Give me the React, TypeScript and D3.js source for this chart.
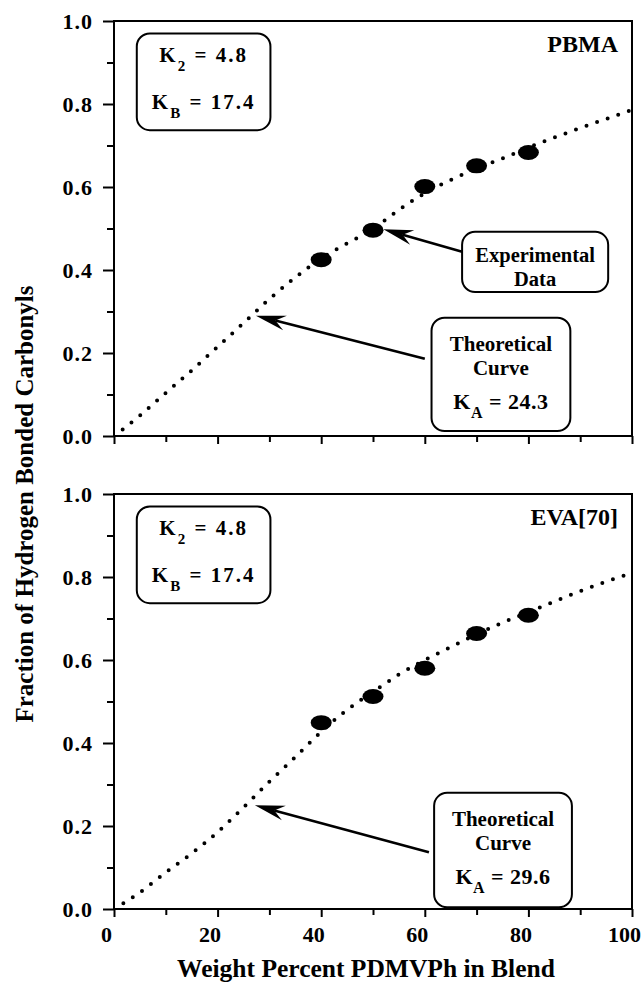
import React, { useEffect, useRef } from "react";
import * as d3 from "d3";

// measured points (weight % PDMVPh vs fraction of H-bonded carbonyls)
const weightPct = [40, 50, 60, 70, 80];
const pbmaFraction = [0.425, 0.496, 0.601, 0.651, 0.683];
const evaFraction = [0.449, 0.512, 0.58, 0.664, 0.708];

// theoretical curves
const curveX = [0, 5, 10, 15, 20, 25, 30, 35, 40, 45, 50, 55, 60, 65, 70, 75, 80, 85, 90, 95, 100];
const pbmaCurve = [0.0, 0.049, 0.104, 0.158, 0.215, 0.272, 0.33, 0.382, 0.428, 0.464, 0.499, 0.545, 0.585, 0.617, 0.645, 0.669, 0.695, 0.719, 0.742, 0.764, 0.786];
const evaCurve = [0.0, 0.04, 0.088, 0.134, 0.185, 0.245, 0.307, 0.366, 0.427, 0.48, 0.523, 0.565, 0.6, 0.631, 0.662, 0.69, 0.715, 0.741, 0.766, 0.789, 0.81];

const xMajor = [0, 20, 40, 60, 80, 100];
const xMinor = [10, 30, 50, 70, 90];
const yMajor = [0, 0.2, 0.4, 0.6, 0.8, 1.0];
const yMinor = [0.1, 0.3, 0.5, 0.7, 0.9];

const FONT = "'Liberation Serif', 'Times New Roman', Times, serif";

const App = () => {
    const svgRef = useRef();

    useEffect(() => {
        const width = 641;
        const height = 982;
        const left = 114;
        const right = 632;

        const svg = d3.select(svgRef.current)
            .attr("width", width)
            .attr("height", height)
            .style("font-family", FONT)
            .style("font-weight", "bold");
        svg.selectAll("*").remove();

        const x = d3.scaleLinear().domain([0, 100]).range([left, right]);

        const panels = [
            {
                name: "PBMA", top: 21, bottom: 436, pts: pbmaFraction, curve: pbmaCurve,
                k2: "4.8", kb: "17.4", ka: "24.3", labels: false,
                theo: { x0: 61.3, x1: 88.1, y0: 0.285, y1: 0.012, from: [60, 0.186], to: [27.4, 0.29] },
                expt: { x0: 67.2, x1: 95.4, y0: 0.492, y1: 0.347, from: [67.2, 0.444], to: [52, 0.498] },
            },
            {
                name: "EVA[70]", top: 494, bottom: 909, pts: evaFraction, curve: evaCurve,
                k2: "4.8", kb: "17.4", ka: "29.6", labels: true,
                theo: { x0: 61.8, x1: 88.4, y0: 0.28, y1: 0.004, from: [60.8, 0.137], to: [27.2, 0.25] },
                expt: null,
            },
        ];

        const arrow = (g, p0, p1) => {
            const dx = p1[0] - p0[0];
            const dy = p1[1] - p0[1];
            const len = Math.hypot(dx, dy);
            const ux = dx / len, uy = dy / len;
            const nx = -uy, ny = ux;
            const L = 30, W = 7.5, notch = 10;
            const bx = p1[0] - ux * (L - notch), by = p1[1] - uy * (L - notch);
            g.append("line")
                .attr("x1", p0[0]).attr("y1", p0[1])
                .attr("x2", bx).attr("y2", by)
                .attr("stroke", "#000").attr("stroke-width", 2.6);
            const head = d3.path();
            head.moveTo(p1[0], p1[1]);
            head.lineTo(p1[0] - ux * L + nx * W, p1[1] - uy * L + ny * W);
            head.lineTo(bx, by);
            head.lineTo(p1[0] - ux * L - nx * W, p1[1] - uy * L - ny * W);
            head.closePath();
            g.append("path").attr("d", head.toString()).attr("fill", "#000");
        };

        const kLine = (g, cx, yb, sym, val, size, spacing) => {
            const t = g.append("text")
                .attr("x", cx).attr("y", yb)
                .attr("text-anchor", "middle")
                .style("font-size", size + "px")
                .style("letter-spacing", spacing + "px");
            t.append("tspan").text("K");
            t.append("tspan").attr("dy", 9).style("font-size", (size - 6) + "px").text(sym);
            t.append("tspan").attr("dy", -9).text(" = " + val);
        };

        panels.forEach((p) => {
            const y = d3.scaleLinear().domain([0, 1]).range([p.bottom, p.top]);
            const g = svg.append("g");

            // frame
            g.append("rect")
                .attr("x", x(0)).attr("y", y(1))
                .attr("width", x(100) - x(0)).attr("height", y(0) - y(1))
                .attr("fill", "none").attr("stroke", "#000").attr("stroke-width", 2);

            // x ticks
            const xAx = g.append("g").attr("transform", `translate(0,${y(0)})`);
            xAx.call(d3.axisBottom(x).tickValues(xMajor).tickSize(8).tickSizeOuter(0)
                .tickFormat(p.labels ? d3.format("d") : () => ""));
            xAx.append("g").call(d3.axisBottom(x).tickValues(xMinor).tickSize(6).tickSizeOuter(0).tickFormat(() => ""));
            xAx.selectAll(".domain").remove();
            xAx.selectAll("line").attr("stroke-width", 2);
            xAx.selectAll("text")
                .attr("y", 17)
                .attr("dx", -8)
                .style("font-family", FONT).style("font-weight", "bold")
                .style("font-size", "22px");

            // y ticks
            const yAx = g.append("g").attr("transform", `translate(${x(0)},0)`);
            yAx.call(d3.axisLeft(y).tickValues(yMajor).tickSize(11).tickSizeOuter(0).tickFormat(d3.format(".1f")));
            yAx.append("g").call(d3.axisLeft(y).tickValues(yMinor).tickSize(7).tickSizeOuter(0).tickFormat(() => ""));
            yAx.selectAll(".domain").remove();
            yAx.selectAll("line").attr("stroke-width", 2);
            yAx.selectAll("text")
                .attr("x", -21)
                .style("font-family", FONT).style("font-weight", "bold")
                .style("font-size", "22px").style("letter-spacing", "1px");

            // theoretical curve (dotted)
            const line = d3.line()
                .x((d, i) => x(curveX[i]))
                .y((d) => y(d))
                .curve(d3.curveMonotoneX);
            g.append("path")
                .attr("d", line(p.curve))
                .attr("fill", "none").attr("stroke", "#000")
                .attr("stroke-width", 4).attr("stroke-linecap", "round")
                .attr("stroke-dasharray", "0 11.2")
                .attr("stroke-dashoffset", -11);

            // data points
            g.selectAll("ellipse.pt")
                .data(p.pts)
                .enter()
                .append("ellipse")
                .attr("cx", (d, i) => x(weightPct[i]))
                .attr("cy", (d) => y(d))
                .attr("rx", 10.5).attr("ry", 7.5)
                .attr("fill", "#000");

            // panel label
            g.append("text")
                .attr("x", x(97.3)).attr("y", y(1) + 31)
                .attr("text-anchor", "end")
                .style("font-size", "24px")
                .text(p.name);

            // K box
            const kx0 = x(4.4), kx1 = x(30.2), ky0 = y(0.97), ky1 = y(0.737);
            g.append("rect")
                .attr("x", kx0).attr("y", ky0)
                .attr("width", kx1 - kx0).attr("height", ky1 - ky0)
                .attr("rx", 13).attr("fill", "#fff").attr("stroke", "#000").attr("stroke-width", 2);
            kLine(g, (kx0 + kx1) / 2, ky0 + 29, "2", p.k2, 21, 2);
            kLine(g, (kx0 + kx1) / 2, ky0 + 76, "B", p.kb, 21, 2);

            // theoretical curve callout
            const t = p.theo;
            const tx0 = x(t.x0), tx1 = x(t.x1), ty0 = y(t.y0), ty1 = y(t.y1);
            arrow(g, [x(t.from[0]), y(t.from[1])], [x(t.to[0]), y(t.to[1])]);
            g.append("rect")
                .attr("x", tx0).attr("y", ty0)
                .attr("width", tx1 - tx0).attr("height", ty1 - ty0)
                .attr("rx", 13).attr("fill", "#fff").attr("stroke", "#000").attr("stroke-width", 2);
            const tcx = (tx0 + tx1) / 2;
            g.append("text").attr("x", tcx).attr("y", ty0 + 33)
                .attr("text-anchor", "middle").style("font-size", "21px").text("Theoretical");
            g.append("text").attr("x", tcx).attr("y", ty0 + 57)
                .attr("text-anchor", "middle").style("font-size", "21px").text("Curve");
            kLine(g, tcx, ty0 + 91, "A", " " + p.ka, 22, 0.5);

            // experimental data callout
            if (p.expt) {
                const e = p.expt;
                const ex0 = x(e.x0), ex1 = x(e.x1), ey0 = y(e.y0), ey1 = y(e.y1);
                arrow(g, [x(e.from[0]), y(e.from[1])], [x(e.to[0]), y(e.to[1])]);
                g.append("rect")
                    .attr("x", ex0).attr("y", ey0)
                    .attr("width", ex1 - ex0).attr("height", ey1 - ey0)
                    .attr("rx", 13).attr("fill", "#fff").attr("stroke", "#000").attr("stroke-width", 2);
                const ecx = (ex0 + ex1) / 2;
                g.append("text").attr("x", ecx).attr("y", ey0 + 30)
                    .attr("text-anchor", "middle").style("font-size", "20.5px").text("Experimental");
                g.append("text").attr("x", ecx).attr("y", ey0 + 54)
                    .attr("text-anchor", "middle").style("font-size", "20.5px").text("Data");
            }
        });

        // axis titles
        svg.append("text")
            .attr("x", 366).attr("y", 977)
            .attr("text-anchor", "middle")
            .style("font-size", "25.5px")
            .text("Weight Percent PDMVPh in Blend");

        svg.append("text")
            .attr("transform", "translate(33,504) rotate(-90)")
            .attr("text-anchor", "middle")
            .style("font-size", "25px")
            .text("Fraction of Hydrogen Bonded Carbonyls");
    }, []);

    return (
        <div style={{ position: "absolute", left: 0, top: 0, background: "#fff" }}>
            <svg ref={svgRef}></svg>
        </div>
    );
};

export default App;
